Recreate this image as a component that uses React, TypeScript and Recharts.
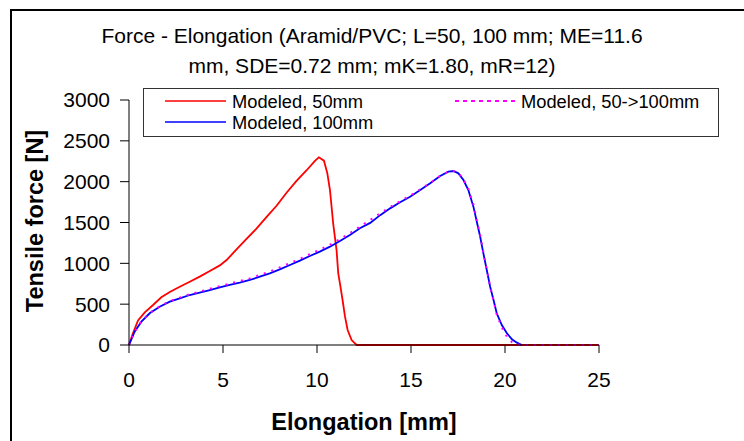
import React from 'react';
import { LineChart, Line, XAxis, YAxis } from 'recharts';

const redX = [0, 0.21, 0.48, 0.84, 1.28, 1.72, 2.17, 2.7, 3.23, 3.76, 4.3, 4.83, 5.19, 5.72, 6.25, 6.78, 7.31, 7.85, 8.38, 8.91, 9.45, 9.89, 10.1, 10.37, 10.55, 10.69, 10.86, 11.04, 11.13, 11.22, 11.36, 11.49, 11.63, 11.84, 12.11, 25];
const redF = [0, 143, 300, 400, 490, 585, 650, 714, 775, 837, 906, 975, 1040, 1170, 1300, 1425, 1565, 1705, 1865, 2010, 2140, 2255, 2298, 2257, 2102, 1898, 1490, 1163, 878, 755, 551, 347, 184, 61, 0, 0];

const blueX = [0, 0.3, 0.66, 1.1, 1.63, 2.17, 2.7, 3.23, 3.76, 4.3, 4.83, 5.36, 5.89, 6.43, 6.96, 7.49, 8.02, 8.56, 9.09, 9.62, 10.15, 10.69, 11.22, 11.75, 12.28, 12.83, 13.36, 13.89, 14.42, 14.95, 15.49, 16.02, 16.55, 16.99, 17.26, 17.52, 17.79, 18.05, 18.32, 18.5, 18.68, 18.85, 19.03, 19.21, 19.39, 19.56, 19.83, 20.1, 20.37, 20.63, 20.9];
const blueF = [0, 163, 286, 388, 469, 531, 571, 612, 641, 673, 706, 735, 763, 796, 837, 878, 927, 980, 1033, 1090, 1143, 1204, 1273, 1347, 1429, 1495, 1590, 1673, 1747, 1816, 1898, 1980, 2069, 2122, 2130, 2102, 2020, 1898, 1694, 1510, 1326, 1122, 918, 714, 551, 388, 245, 143, 70, 29, 0];

const magX = [0, 0.3, 0.66, 1.1, 1.63, 2.17, 2.7, 3.23, 3.76, 4.3, 4.83, 5.36, 5.89, 6.43, 6.96, 7.49, 8.02, 8.56, 9.09, 9.62, 10.15, 10.69, 11.22, 11.75, 12.28, 12.81, 13.36, 13.89, 14.42, 14.95, 15.49, 16.02, 16.55, 16.99, 17.26, 17.52, 17.79, 18.05, 18.32, 18.5, 18.68, 18.85, 19.03, 19.21, 19.39, 19.56, 19.83, 20.1, 20.37, 20.6, 21, 25];
const magF = [0, 165, 290, 392, 474, 537, 580, 622, 654, 688, 722, 752, 782, 816, 858, 900, 950, 1002, 1055, 1113, 1168, 1228, 1296, 1370, 1450, 1528, 1612, 1690, 1760, 1828, 1906, 1986, 2072, 2124, 2130, 2106, 2030, 1915, 1720, 1535, 1345, 1135, 925, 715, 545, 375, 215, 100, 35, 8, 0, 0];

const xTicks = [0, 5, 10, 15, 20, 25];
const yTicks = [0, 500, 1000, 1500, 2000, 2500, 3000];

const seriesNames = ['Modeled, 50mm', 'Modeled, 100mm', 'Modeled, 50->100mm'];
const titleLines = ['Force - Elongation (Aramid/PVC; L=50, 100 mm; ME=11.6', 'mm, SDE=0.72 mm; mK=1.80, mR=12)'];
const xLabel = 'Elongation [mm]';
const yLabel = 'Tensile force [N]';

const toRows = (xs: number[], ys: number[]) => xs.map((x, i) => ({ x, y: ys[i] }));
const redData = toRows(redX, redF);
const blueData = toRows(blueX, blueF);
const magData = toRows(magX, magF);

const FONT = '"Liberation Sans", Arial, sans-serif';

export default function App() {
  return (
    <div style={{ position: 'absolute', left: 0, top: 0, width: 744, height: 441, overflow: 'hidden', background: '#fff', fontFamily: FONT }}>
      <div style={{ position: 'absolute', left: 10, top: 9, width: 900, height: 600, border: '2px solid #000', boxSizing: 'border-box' }} />
      <div style={{ position: 'absolute', left: 0, width: 744, top: 21, textAlign: 'center', fontSize: 21, lineHeight: '30px', color: '#000', whiteSpace: 'nowrap' }}>
        <div>{titleLines[0]}</div>
        <div>{titleLines[1]}</div>
      </div>
      <div style={{ position: 'absolute', left: 0, top: 0 }}>
        <LineChart width={744} height={441} margin={{ top: 100, right: 145, bottom: 0, left: 0 }}>
          <XAxis
            type="number"
            dataKey="x"
            domain={[0, 25]}
            ticks={xTicks}
            allowDuplicatedCategory={false}
            height={96}
            tickSize={8}
            tickMargin={19}
            axisLine={{ stroke: '#000', strokeWidth: 1 }}
            tickLine={{ stroke: '#000', strokeWidth: 1 }}
            tick={{ fill: '#000', fontSize: 21, fontFamily: FONT }}
            label={{ value: xLabel, position: 'insideBottom', offset: 11, fill: '#000', fontSize: 23.5, fontWeight: 'bold', fontFamily: FONT }}
          />
          <YAxis
            type="number"
            domain={[0, 3000]}
            ticks={yTicks}
            width={129}
            tickSize={9}
            tickMargin={10}
            axisLine={{ stroke: '#000', strokeWidth: 1 }}
            tickLine={{ stroke: '#000', strokeWidth: 1 }}
            tick={{ fill: '#000', fontSize: 21, fontFamily: FONT }}
          />
          <Line data={redData} dataKey="y" name={seriesNames[0]} type="linear" stroke="#FF0000" strokeWidth={1.8} dot={false} isAnimationActive={false} />
          <Line data={blueData} dataKey="y" name={seriesNames[1]} type="linear" stroke="#0000FF" strokeWidth={1.8} dot={false} isAnimationActive={false} />
          <Line data={magData} dataKey="y" name={seriesNames[2]} type="linear" stroke="#FF00FF" strokeWidth={2} strokeDasharray="2 6" dot={false} isAnimationActive={false} />
        </LineChart>
      </div>
      <svg style={{ position: 'absolute', left: 0, top: 0 }} width={80} height={441}>
        <text x={35} y={221} transform="rotate(-90, 35, 221)" textAnchor="middle" dominantBaseline="central" fontSize={23.5} fontWeight="bold" fontFamily={FONT} fill="#000">{yLabel}</text>
      </svg>
      <svg style={{ position: 'absolute', left: 143, top: 88 }} width={577} height={50}>
        <rect x={0.5} y={0.5} width={575} height={48} fill="#fff" stroke="#333" strokeWidth={1} />
        <line x1={22} x2={83} y1={13} y2={13} stroke="#FF0000" strokeWidth={1.5} />
        <text x={89} y={20} fontSize={18.3} fontFamily={FONT} fill="#000">{seriesNames[0]}</text>
        <line x1={22} x2={83} y1={34} y2={34} stroke="#0000FF" strokeWidth={1.5} />
        <text x={89} y={41} fontSize={18.3} fontFamily={FONT} fill="#000">{seriesNames[1]}</text>
        <line x1={312} x2={372} y1={13} y2={13} stroke="#FF00FF" strokeWidth={1.8} strokeDasharray="4 4" />
        <text x={378} y={20} fontSize={18.3} fontFamily={FONT} fill="#000">{seriesNames[2]}</text>
      </svg>
    </div>
  );
}
